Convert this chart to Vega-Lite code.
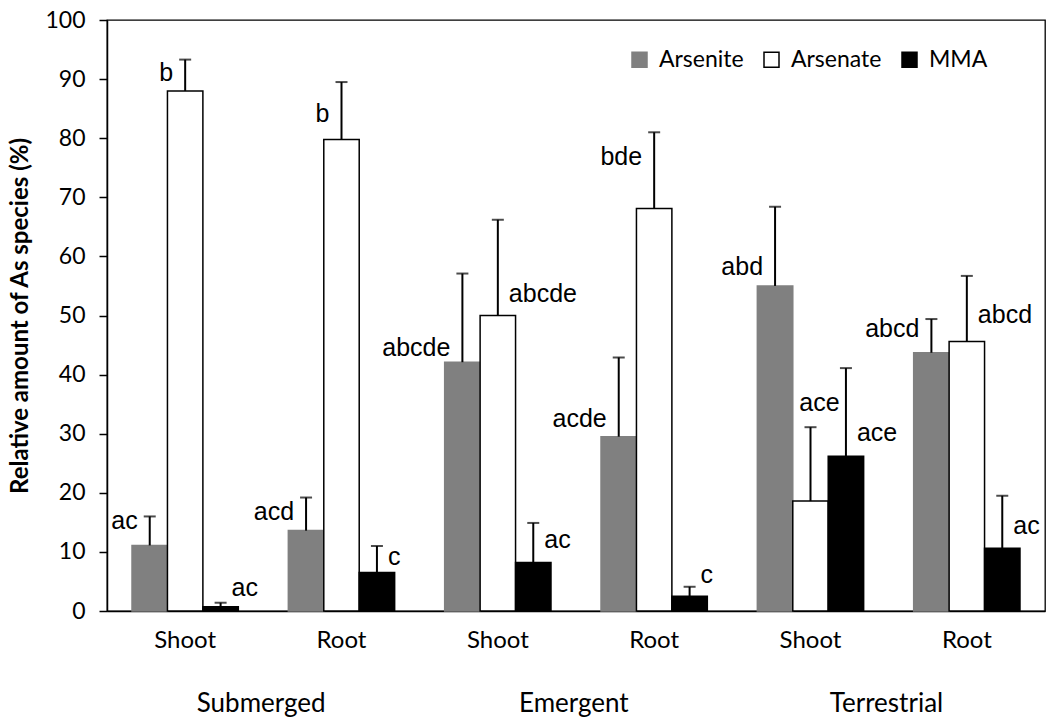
{
  "$schema": "https://vega.github.io/schema/vega-lite/v6.json",
  "autosize": {"type": "none"},
  "width": 938,
  "height": 591,
  "padding": {"left": 107, "top": 20, "right": 2, "bottom": 117},
  "background": "white",
  "config": {
    "view": {"stroke": "#000000", "strokeWidth": 1.3},
    "axis": {"domainColor": "#000000", "tickColor": "#000000", "labelColor": "#000000", "titleColor": "#000000", "grid": false}
  },
  "data": {
    "values": [
      {"cat": "Submerged Shoot", "species": "Arsenite", "value": 11.1, "err": 16.0, "letter": "ac", "ly": 13.9, "side": "left"},
      {"cat": "Submerged Shoot", "species": "Arsenate", "value": 88.0, "err": 93.3, "letter": "b", "ly": 89.7, "side": "left"},
      {"cat": "Submerged Shoot", "species": "MMA", "value": 0.7, "err": 1.4, "letter": "ac", "ly": 2.5, "side": "right"},
      {"cat": "Submerged Root", "species": "Arsenite", "value": 13.6, "err": 19.2, "letter": "acd", "ly": 15.4, "side": "left"},
      {"cat": "Submerged Root", "species": "Arsenate", "value": 79.8, "err": 89.5, "letter": "b", "ly": 82.8, "side": "left"},
      {"cat": "Submerged Root", "species": "MMA", "value": 6.5, "err": 11.0, "letter": "c", "ly": 7.7, "side": "right"},
      {"cat": "Emergent Shoot", "species": "Arsenite", "value": 42.1, "err": 57.1, "letter": "abcde", "ly": 43.2, "side": "left"},
      {"cat": "Emergent Shoot", "species": "Arsenate", "value": 50.0, "err": 66.2, "letter": "abcde", "ly": 52.3, "side": "right"},
      {"cat": "Emergent Shoot", "species": "MMA", "value": 8.2, "err": 14.9, "letter": "ac", "ly": 10.7, "side": "right"},
      {"cat": "Emergent Root", "species": "Arsenite", "value": 29.5, "err": 42.9, "letter": "acde", "ly": 31.1, "side": "left"},
      {"cat": "Emergent Root", "species": "Arsenate", "value": 68.1, "err": 81.0, "letter": "bde", "ly": 75.5, "side": "left"},
      {"cat": "Emergent Root", "species": "MMA", "value": 2.5, "err": 4.1, "letter": "c", "ly": 4.7, "side": "right"},
      {"cat": "Terrestrial Shoot", "species": "Arsenite", "value": 55.0, "err": 68.4, "letter": "abd", "ly": 56.8, "side": "left"},
      {"cat": "Terrestrial Shoot", "species": "Arsenate", "value": 18.6, "err": 31.1, "letter": "ace", "ly": 33.8, "side": "center"},
      {"cat": "Terrestrial Shoot", "species": "MMA", "value": 26.2, "err": 41.1, "letter": "ace", "ly": 28.7, "side": "right"},
      {"cat": "Terrestrial Root", "species": "Arsenite", "value": 43.7, "err": 49.4, "letter": "abcd", "ly": 46.3, "side": "left"},
      {"cat": "Terrestrial Root", "species": "Arsenate", "value": 45.6, "err": 56.7, "letter": "abcd", "ly": 48.8, "side": "right"},
      {"cat": "Terrestrial Root", "species": "MMA", "value": 10.6, "err": 19.5, "letter": "ac", "ly": 13.0, "side": "right"}
    ]
  },
  "resolve": {"axis": {"x": "independent"}},
  "layer": [
    {
      "mark": {"type": "bar", "strokeWidth": 1.5},
      "encoding": {
        "x": {"field": "cat", "type": "nominal", "sort": null,
              "scale": {"type": "band", "paddingInner": 0.32, "paddingOuter": 0.16},
              "axis": {"orient": "bottom", "title": null, "ticks": false, "domainWidth": 1.5, "labelAngle": 0, "labelFont": "Lato", "labelFontSize": 24, "labelPadding": 17,
                       "labelExpr": "split(datum.label, ' ')[1]"}},
        "xOffset": {"field": "species", "type": "nominal", "scale": {"domain": ["Arsenite", "Arsenate", "MMA"]}},
        "y": {"field": "value", "type": "quantitative",
              "scale": {"domain": [0, 100]},
              "axis": {"title": "Relative amount of As species (%)", "values": [0,10,20,30,40,50,60,70,80,90,100], "tickSize": 8, "tickWidth": 1.5, "domainWidth": 1.5,
                       "labelFont": "Lato", "labelFontSize": 23, "labelPadding": 14,
                       "titleFont": "Lato", "titleFontWeight": "bold", "titleFontSize": 24, "titlePadding": 12}},
        "color": {"field": "species", "type": "nominal",
                  "scale": {"domain": ["Arsenite", "Arsenate", "MMA"], "range": ["#808080", "#ffffff", "#000000"]},
                  "legend": {"title": null, "orient": "none", "legendX": 521, "legendY": 28, "direction": "horizontal",
                             "symbolType": "square", "symbolSize": 225, "symbolStrokeWidth": 1.5,
                             "labelFont": "Lato", "labelFontSize": 23, "labelColor": "#000000", "labelOffset": 8, "columnPadding": 16}},
        "stroke": {"field": "species", "type": "nominal",
                   "scale": {"domain": ["Arsenite", "Arsenate", "MMA"], "range": ["#808080", "#000000", "#000000"]},
                   "legend": {"title": null, "orient": "none", "legendX": 521, "legendY": 28, "direction": "horizontal",
                              "symbolType": "square", "symbolSize": 225, "symbolStrokeWidth": 1.5,
                              "labelFont": "Lato", "labelFontSize": 23, "labelColor": "#000000", "labelOffset": 8, "columnPadding": 16}}
      }
    },
    {
      "mark": {"type": "rule", "color": "#000000", "strokeWidth": 2},
      "encoding": {
        "x": {"field": "cat", "type": "nominal", "sort": null,
              "axis": {"orient": "bottom", "title": null, "ticks": false, "domain": false, "labelAngle": 0, "labelFont": "Lato", "labelFontSize": 26, "labelPadding": 79, "labelOffset": 76,
                       "labelExpr": "indexof(datum.label, 'Shoot') >= 0 ? split(datum.label, ' ')[0] : ''"}},
        "xOffset": {"field": "species", "type": "nominal"},
        "y": {"field": "value", "type": "quantitative"},
        "y2": {"field": "err"}
      }
    },
    {
      "mark": {"type": "tick", "color": "#000000", "thickness": 2, "size": 12},
      "encoding": {
        "x": {"field": "cat", "type": "nominal", "sort": null, "axis": null},
        "xOffset": {"field": "species", "type": "nominal"},
        "y": {"field": "err", "type": "quantitative"}
      }
    },
    {
      "transform": [{"filter": "datum.side == 'left'"}],
      "mark": {"type": "text", "align": "right", "baseline": "alphabetic", "dx": -12, "font": "Liberation Sans", "fontSize": 25, "color": "#000000"},
      "encoding": {
        "x": {"field": "cat", "type": "nominal", "sort": null, "axis": null},
        "xOffset": {"field": "species", "type": "nominal"},
        "y": {"field": "ly", "type": "quantitative"},
        "text": {"field": "letter"}
      }
    },
    {
      "transform": [{"filter": "datum.side == 'right'"}],
      "mark": {"type": "text", "align": "left", "baseline": "alphabetic", "dx": 11, "font": "Liberation Sans", "fontSize": 25, "color": "#000000"},
      "encoding": {
        "x": {"field": "cat", "type": "nominal", "sort": null, "axis": null},
        "xOffset": {"field": "species", "type": "nominal"},
        "y": {"field": "ly", "type": "quantitative"},
        "text": {"field": "letter"}
      }
    },
    {
      "transform": [{"filter": "datum.side == 'center'"}],
      "mark": {"type": "text", "align": "center", "baseline": "alphabetic", "dx": 9, "font": "Liberation Sans", "fontSize": 25, "color": "#000000"},
      "encoding": {
        "x": {"field": "cat", "type": "nominal", "sort": null, "axis": null},
        "xOffset": {"field": "species", "type": "nominal"},
        "y": {"field": "ly", "type": "quantitative"},
        "text": {"field": "letter"}
      }
    }
  ]
}
